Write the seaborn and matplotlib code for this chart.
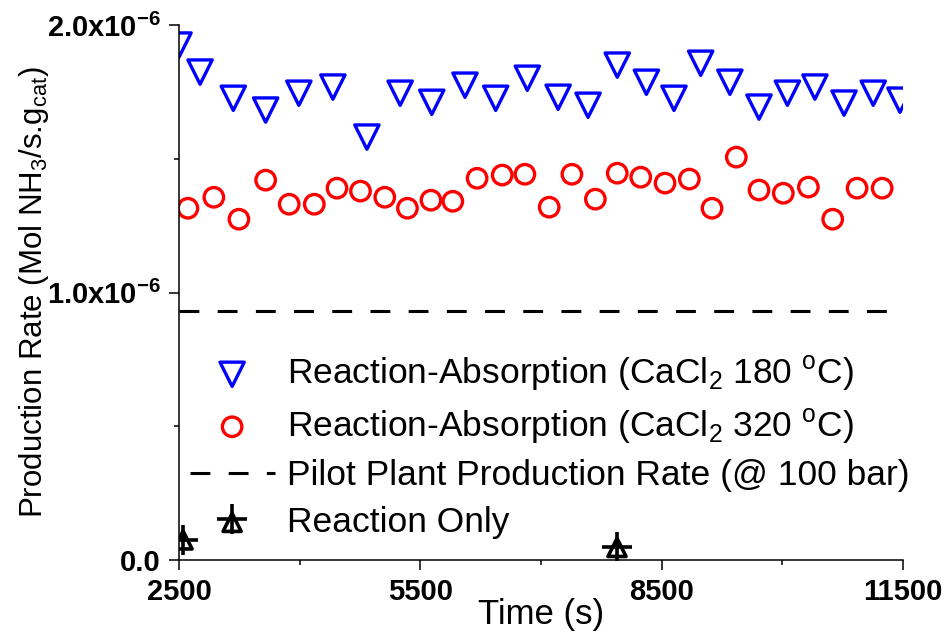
import matplotlib
matplotlib.use("Agg")
import numpy as np
import pandas as pd
import seaborn as sns
import matplotlib.pyplot as plt
from matplotlib.ticker import FixedLocator, FixedFormatter

sns.set_style("white")
plt.rcParams["font.family"] = ["Liberation Sans", "DejaVu Sans"]
plt.rcParams["mathtext.fontset"] = "custom"
plt.rcParams["mathtext.rm"] = "Liberation Sans"
plt.rcParams["mathtext.bf"] = "Liberation Sans:bold"
plt.rcParams["mathtext.default"] = "regular"
plt.rcParams["text.color"] = "black"
plt.rcParams["axes.labelcolor"] = "black"
plt.rcParams["xtick.color"] = "black"
plt.rcParams["ytick.color"] = "black"

# rates in 1e-6 mol NH3 / s.g_cat
time_180 = [2500, 2762, 3175, 3577, 3990, 4413, 4836, 5249, 5642, 6055, 6437, 6830,
            7213, 7585, 7948, 8310, 8653, 8985, 9348, 9710, 10063, 10405, 10767, 11130, 11462]
rate_180 = [1.925, 1.824, 1.726, 1.682, 1.745, 1.768, 1.581, 1.745, 1.711, 1.775, 1.726, 1.801,
            1.730, 1.700, 1.850, 1.786, 1.726, 1.857, 1.786, 1.693, 1.745, 1.768, 1.708, 1.745, 1.719]

time_320 = [2611, 2933, 3245, 3577, 3870, 4182, 4464, 4756, 5058, 5340, 5632, 5904, 6206, 6518, 6800,
            7102, 7384, 7676, 7948, 8240, 8542, 8844, 9126, 9428, 9710, 10012, 10324, 10626, 10929, 11241]
rate_320 = [1.315, 1.356, 1.274, 1.420, 1.330, 1.330, 1.390, 1.379, 1.356, 1.315, 1.345, 1.341, 1.427, 1.439, 1.442,
            1.319, 1.442, 1.349, 1.446, 1.431, 1.409, 1.424, 1.315, 1.506, 1.383, 1.371, 1.394, 1.274, 1.390, 1.390]

time_only = [2550, 7945]
rate_only = [0.075, 0.047]

pilot_rate = 0.93

df180 = pd.DataFrame({"time": time_180, "rate": np.array(rate_180) * 1e-6})
df320 = pd.DataFrame({"time": time_320, "rate": np.array(rate_320) * 1e-6})
dfonly = pd.DataFrame({"time": time_only, "rate": np.array(rate_only) * 1e-6})

fig = plt.figure(figsize=(9.5, 6.35), dpi=100)
ax = fig.add_axes([179 / 950, 1 - 560 / 635, 724 / 950, 535 / 635])

sns.scatterplot(data=df180, x="time", y="rate", marker="v", s=17.5**2, facecolor="none",
                edgecolor="blue", linewidth=2.4, ax=ax, label="Reaction-Absorption (CaCl$_2$ 180 $^{o}$C)")
sns.scatterplot(data=df320, x="time", y="rate", marker="o", s=14**2, facecolor="none",
                edgecolor="red", linewidth=2.4, ax=ax, label="Reaction-Absorption (CaCl$_2$ 320 $^{o}$C)")
ax.axhline(pilot_rate * 1e-6, color="black", lw=2.2, dashes=(6.5, 6),
           label="Pilot Plant Production Rate (@ 100 bar)")
sns.scatterplot(data=dfonly, x="time", y="rate", marker="^", s=13**2, facecolor="none",
                edgecolor="black", linewidth=2.6, ax=ax, label="Reaction Only")
ax.scatter(time_only, np.array(rate_only) * 1e-6, marker="+", s=22**2, color="black", linewidths=2.6)

ax.set_xlim(2500, 11500)
ax.set_ylim(0, 2.0e-6)

ax.xaxis.set_major_locator(FixedLocator([2500, 5500, 8500, 11500]))
ax.xaxis.set_minor_locator(FixedLocator([4000, 7000, 10000]))
ax.yaxis.set_major_locator(FixedLocator([0, 1.0e-6, 2.0e-6]))
ax.yaxis.set_major_formatter(FixedFormatter(["0.0", r"$\mathbf{1.0x10^{-6}}$", r"$\mathbf{2.0x10^{-6}}$"]))
ax.yaxis.set_minor_locator(FixedLocator([0.5e-6, 1.5e-6]))

ax.tick_params(which="major", direction="out", length=7, width=1.1, labelsize=21, color="black",
               left=True, bottom=True, pad=6)
ax.tick_params(which="minor", direction="out", length=3.5, width=1.1, left=True, bottom=True)
for lab in ax.get_xticklabels() + ax.get_yticklabels():
    lab.set_fontweight("bold")

for side in ["top", "right"]:
    ax.spines[side].set_visible(False)
for side in ["left", "bottom"]:
    ax.spines[side].set_color("black")
    ax.spines[side].set_linewidth(1.1)

ax.set_xlabel("Time (s)", fontsize=25, labelpad=-6)
ax.set_ylabel("Production Rate (Mol NH$_3$/s.g$_{cat}$)", fontsize=22.5, labelpad=-3)

handles, labels = ax.get_legend_handles_labels()
plus = plt.Line2D([], [], marker="+", markersize=22, color="black", lw=0, markeredgewidth=2.6)
handles[3] = (handles[3], plus)
ax.legend(handles, labels, loc="lower left", bbox_to_anchor=(0.0, 0.02), frameon=False,
          fontsize=25.5, handlelength=2.4, handletextpad=0.35, labelspacing=0.38,
          borderaxespad=0, borderpad=0.3, scatterpoints=1)

fig.savefig("out.png", dpi=100)
